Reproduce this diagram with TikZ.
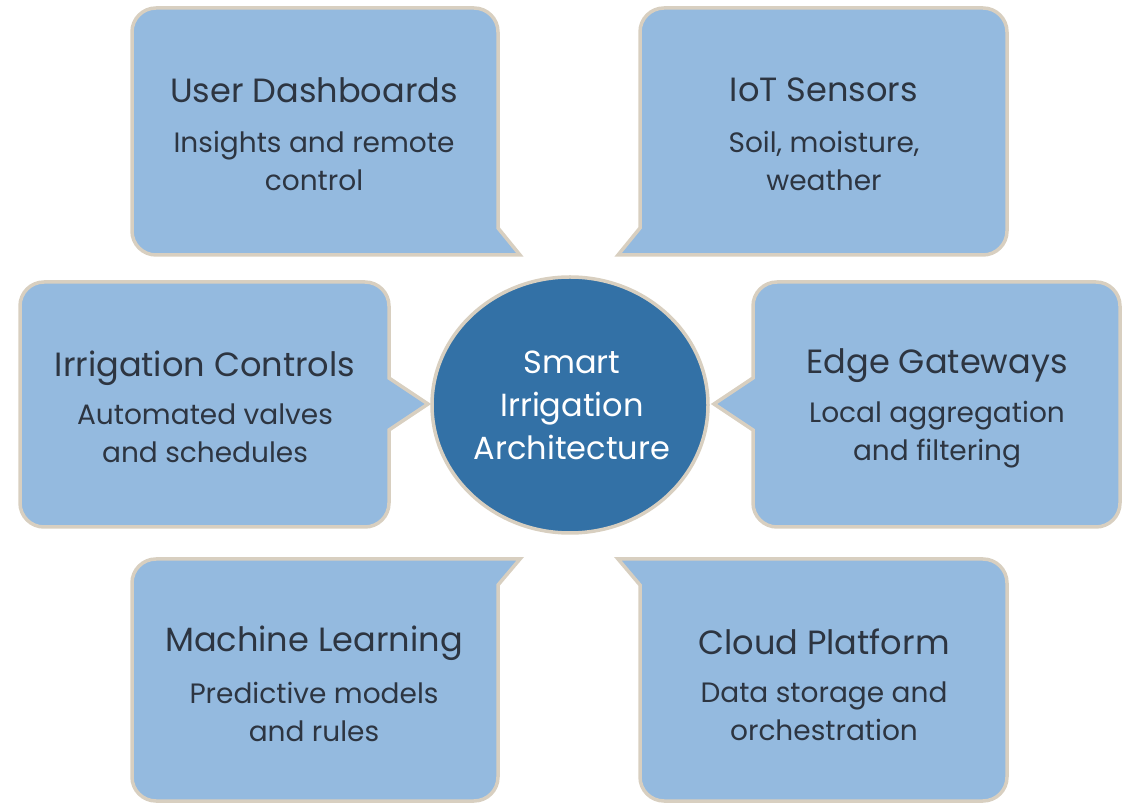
\documentclass[tikz,border=0pt]{standalone}
\usepackage{fontspec}
\setmainfont{Poppins}
\definecolor{boxfill}{HTML}{94BADF}
\definecolor{boxline}{HTML}{D8CFC0}
\definecolor{hubfill}{HTML}{3371A6}
\definecolor{txt}{HTML}{2D3541}
\tikzset{
  callout/.style={fill=boxfill, draw=boxline, line width=3.5pt, line join=miter},
  hubshape/.style={fill=hubfill, draw=boxline, line width=3.5pt},
  ttl/.style={text=txt, font=\fontsize{33.6}{38}\selectfont, inner sep=0pt},
  sub/.style={text=txt, font=\fontsize{28}{38}\selectfont, align=center, inner sep=0pt},
  hubtxt/.style={text=white, font=\fontsize{32}{43}\selectfont, align=center, inner sep=0pt}
}
\begin{document}
\begin{tikzpicture}[x=1pt,y=1pt]
\useasboundingbox (0,0) rectangle (1132,803);
\def\r{24}
% top-left
\draw[callout] (132,548+\r) -- (132,795-\r) arc[start angle=180,end angle=90,radius=\r]
  -- (498-\r,795) arc[start angle=90,end angle=0,radius=\r]
  -- (498,575) -- (520,548) -- (132+\r,548) arc[start angle=270,end angle=180,radius=\r] -- cycle;
% top-right
\draw[callout] (640,575) -- (640,795-\r) arc[start angle=180,end angle=90,radius=\r]
  -- (1007-\r,795) arc[start angle=90,end angle=0,radius=\r]
  -- (1007,548+\r) arc[start angle=0,end angle=-90,radius=\r]
  -- (618,548) -- cycle;
% middle-left
\draw[callout] (20,276+\r) -- (20,521-\r) arc[start angle=180,end angle=90,radius=\r]
  -- (389-\r,521) arc[start angle=90,end angle=0,radius=\r]
  -- (389,425) -- (428,399) -- (389,373)
  -- (389,276+\r) arc[start angle=0,end angle=-90,radius=\r]
  -- (20+\r,276) arc[start angle=270,end angle=180,radius=\r] -- cycle;
% middle-right
\draw[callout] (753,276+\r) -- (753,373) -- (714,399) -- (753,425)
  -- (753,521-\r) arc[start angle=180,end angle=90,radius=\r]
  -- (1120-\r,521) arc[start angle=90,end angle=0,radius=\r]
  -- (1120,276+\r) arc[start angle=0,end angle=-90,radius=\r]
  -- (753+\r,276) arc[start angle=270,end angle=180,radius=\r] -- cycle;
% bottom-left
\draw[callout] (132,2+\r) -- (132,244-\r) arc[start angle=180,end angle=90,radius=\r]
  -- (520,244) -- (498,218)
  -- (498,2+\r) arc[start angle=0,end angle=-90,radius=\r]
  -- (132+\r,2) arc[start angle=270,end angle=180,radius=\r] -- cycle;
% bottom-right
\draw[callout] (640,2+\r) -- (640,218) -- (618,244)
  -- (1007-\r,244) arc[start angle=90,end angle=0,radius=\r]
  -- (1007,2+\r) arc[start angle=0,end angle=-90,radius=\r]
  -- (640+\r,2) arc[start angle=270,end angle=180,radius=\r] -- cycle;
% hub
\draw[hubshape] (570,398) ellipse[x radius=138, y radius=128];
\node[hubtxt] (hub) at (572,398) {Smart\\Irrigation\\Architecture};
% texts
\node[ttl] (ud) at (314,713) {User Dashboards};
\node[sub] (uds) at (314,642) {Insights and remote\\control};
\node[ttl] (iot) at (824,713) {IoT Sensors};
\node[sub] (iots) at (824,642) {Soil, moisture,\\weather};
\node[ttl] (ic) at (205,435) {Irrigation Controls};
\node[sub] (ics) at (205,370) {Automated valves\\and schedules};
\node[ttl] (eg) at (937,437) {Edge Gateways};
\node[sub] (egs) at (937,368) {Local aggregation\\and filtering};
\node[ttl] (ml) at (314,160) {Machine Learning};
\node[sub] (mls) at (314,91) {Predictive models\\and rules};
\node[ttl] (cp) at (824,161) {Cloud Platform};
\node[sub] (cps) at (824,92) {Data storage and\\orchestration};
\end{tikzpicture}
\end{document}
